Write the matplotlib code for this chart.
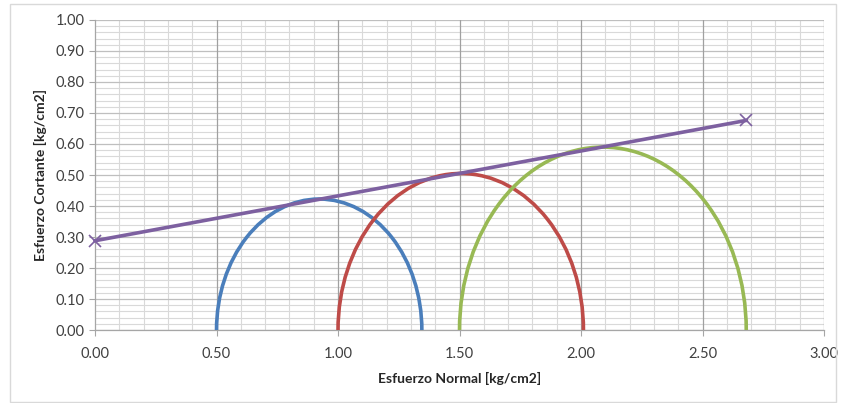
"""
Mohr circles with failure envelope (esfuerzo normal vs esfuerzo cortante).
"""
import matplotlib
matplotlib.use("Agg")
import matplotlib.pyplot as plt
from matplotlib.patches import Arc, Rectangle
from matplotlib.ticker import MultipleLocator

plt.rcParams["font.family"] = ["Lato", "DejaVu Sans"]

# Mohr circles: sigma3 / sigma1 per test [kg/cm2]
sigma3 = [0.50, 1.00, 1.50]
sigma1 = [1.345, 2.01, 2.68]
circle_colors = ["#4A7EBB", "#BE4B48", "#98B954"]

# failure envelope end points
env_x = [0.00, 2.68]
env_y = [0.288, 0.676]
ENV_COLOR = "#7D60A0"

GRID_MINOR = "#D9D9D9"
GRID_MAJOR = "#A0A0A0"

fig = plt.figure(figsize=(8.44, 4.03), dpi=100)
ax = fig.add_axes([0.1126, 0.1811, 0.8637, 0.7693])

ax.set_xlim(0, 3.0)
ax.set_ylim(0, 1.0)
ax.xaxis.set_major_locator(MultipleLocator(0.5))
ax.xaxis.set_minor_locator(MultipleLocator(0.1))
ax.yaxis.set_major_locator(MultipleLocator(0.1))
ax.yaxis.set_minor_locator(MultipleLocator(0.02))
ax.grid(which="minor", color=GRID_MINOR, linewidth=0.8)
ax.grid(which="major", axis="y", color="#BFBFBF", linewidth=0.9)
ax.set_axisbelow(True)
# darker vertical lines every 0.5, kept above the light grid
for xv in ax.get_xticks():
    if 0 < xv <= 3.0:
        ax.axvline(xv, color=GRID_MAJOR, linewidth=0.9, zorder=0.8)

for s in ["top", "right"]:
    ax.spines[s].set_visible(False)
for s in ["left", "bottom"]:
    ax.spines[s].set_color("#A6A6A6")
    ax.spines[s].set_linewidth(0.9)

ax.tick_params(which="major", length=4, color="#A6A6A6", labelsize=10.5,
               labelcolor="#404040")
ax.tick_params(which="minor", length=0)
ax.tick_params(axis="x", pad=8)
ax.xaxis.set_major_formatter(lambda v, p: f"{v:.2f}")
ax.yaxis.set_major_formatter(lambda v, p: f"{v:.2f}")

for s3, s1, c in zip(sigma3, sigma1, circle_colors):
    center = (s1 + s3) / 2
    d = s1 - s3
    ax.add_patch(Arc((center, 0), d, d, theta1=0, theta2=180,
                     color=c, linewidth=2.6, zorder=3))

ax.plot(env_x, env_y, color=ENV_COLOR, linewidth=2.6, marker="x",
        markersize=9, markeredgewidth=1.2, clip_on=False, zorder=4)

ax.set_xlabel("Esfuerzo Normal [kg/cm2]", fontsize=10, fontweight="bold",
              color="#262626", labelpad=8)
ax.set_ylabel("Esfuerzo Cortante [kg/cm2]", fontsize=10, fontweight="bold",
              color="#262626", labelpad=6)

# outer chart border
fig.patches.append(Rectangle((10 / 844, 0.002), 826 / 844, 0.988,
                             transform=fig.transFigure, fill=False,
                             edgecolor="#D9D9D9", linewidth=1.0))

fig.savefig("out.png", dpi=100)
